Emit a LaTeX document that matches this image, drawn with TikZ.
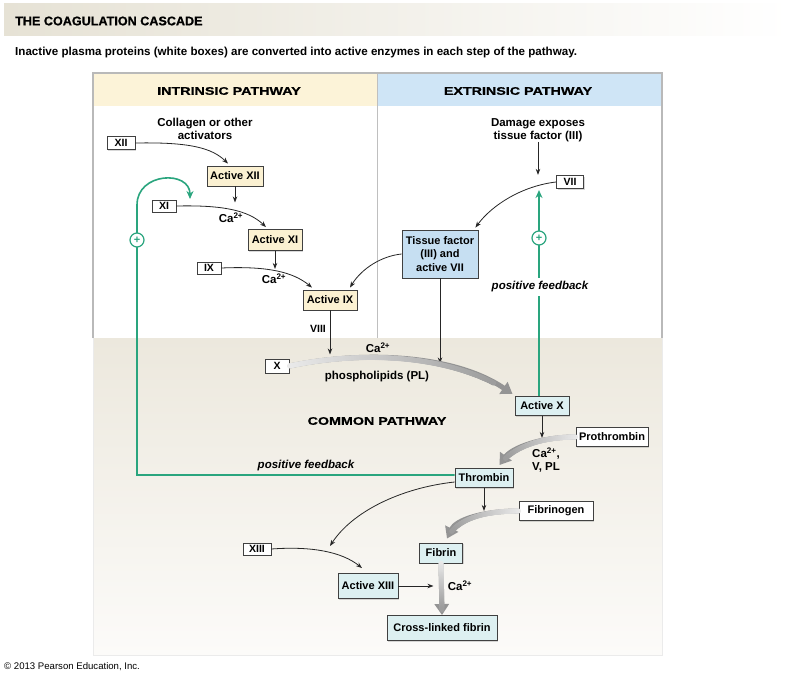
\documentclass[tikz,border=0pt]{standalone}
\usepackage{fontspec}
\setmainfont{Liberation Sans}
\newfontfamily\widefont[FakeStretch=1.3,FakeBold=0.8]{Liberation Sans Bold}
\newfontfamily\heavyfont[FakeBold=0.8]{Liberation Sans Bold}
\usetikzlibrary{arrows.meta,shadows,calc,decorations.markings}
\definecolor{hdrY}{HTML}{FCF3D8}
\definecolor{hdrB}{HTML}{CFE5F6}
\definecolor{boxY}{HTML}{FBF1D2}
\definecolor{boxB}{HTML}{C6DFF2}
\definecolor{boxC}{HTML}{DDF0F1}
\definecolor{fbgreen}{HTML}{2AA57E}
\definecolor{commonT}{HTML}{ECE8DD}
\definecolor{commonB}{HTML}{FCFBF9}
\definecolor{frameG}{HTML}{B9B9B9}
\definecolor{titleG}{HTML}{E6E2D5}
\begin{document}
\begin{tikzpicture}[x=1pt,y=-1pt,
  lbl/.style={font=\fontsize{11.5}{13}\selectfont\bfseries, inner sep=0pt, align=center},
  ital/.style={font=\fontsize{11.5}{13}\selectfont\bfseries\itshape, inner sep=1.5pt},
  hdr/.style={font=\widefont\fontsize{11}{12}\selectfont, inner sep=0pt},
  ibox/.style={draw=black!75, line width=0.9pt, fill=white, inner sep=0pt, align=center,
    font=\fontsize{11}{13.5}\selectfont\bfseries,
    drop shadow={shadow xshift=1.4pt, shadow yshift=-1.4pt, opacity=0.3}},
  sbox/.style={ibox, font=\fontsize{10.5}{12}\selectfont\bfseries},
  wh/.style 2 args={minimum width=#1pt, minimum height=#2pt},
  conn/.style={draw=black!85, line width=0.8pt, -{Stealth[length=6pt,width=4.5pt]}},
  fb/.style={draw=fbgreen, line width=1.6pt},
  fbarrow/.style={fb, -{Stealth[length=8pt,width=7pt]}},
  pluscirc/.style={circle, draw=fbgreen, fill=white, line width=1.2pt, minimum size=14pt, inner sep=0pt, text=fbgreen, font=\bfseries\fontsize{11}{11}\selectfont},
  gbar/.style={draw=black!42, line width=5pt, -{Triangle[length=11pt,width=14pt]},
    postaction={decorate},
    decoration={markings, mark=between positions 0 and 0.9 step 0.6pt with {%
      \pgfmathsetmacro\gf{8+34*\pgfkeysvalueof{/pgf/decoration/mark info/distance from start}/\pgfdecoratedpathlength}%
      \fill[black!\gf] (0,0) circle (2.5pt);}}}
]
\useasboundingbox (0,0) rectangle (812,677);
\fill[white] (0,0) rectangle (812,677);
% title band
\shade[left color=titleG, right color=white] (4,4) rectangle (790,36);
\node[anchor=west, font=\heavyfont\fontsize{12.6}{13}\selectfont, inner sep=0pt] (title) at (15,21) {THE COAGULATION CASCADE};
\node[anchor=west, font=\fontsize{11.6}{13}\selectfont\bfseries, inner sep=0pt] (sub) at (15,53) {Inactive plasma proteins (white boxes) are converted into active enzymes in each step of the pathway.};
% frame
\shade[top color=commonT, bottom color=commonB] (93,338) rectangle (662,655);
\fill[white] (93,106) rectangle (662,338);
\fill[hdrY] (93,73) rectangle (377,106);
\fill[hdrB] (377,73) rectangle (662,106);
\draw[black!25, line width=0.8pt] (377,73) -- (377,338);
\draw[black!8, line width=1pt] (93,338) -- (93,655) -- (662,655) -- (662,338);
\draw[frameG, line width=2.5pt] (93,338) -- (93,73) -- (662,73) -- (662,338);
\node[hdr] (hI) at (229,91) {INTRINSIC PATHWAY};
\node[hdr] (hE) at (518,91) {EXTRINSIC PATHWAY};
\node[hdr] (hC) at (377,421) {COMMON PATHWAY};
% intrinsic
\node[lbl] (coll) at (205,129) {Collagen or other\\activators};
\node[sbox, wh={28}{13}] (XII) at (121,143) {XII};
\node[ibox, wh={56}{20}, fill=boxY] (AXII) at (235,176) {Active XII};
\node[sbox, wh={24}{12}] (XI) at (164,206) {XI};
\node[lbl] (ca1) at (231,218) {Ca\textsuperscript{2+}};
\node[ibox, wh={54}{21}, fill=boxY] (AXI) at (275,240) {Active XI};
\node[sbox, wh={24}{12}] (IX) at (209,268) {IX};
\node[lbl] (ca2) at (274,279) {Ca\textsuperscript{2+}};
\node[ibox, wh={54}{20}, fill=boxY] (AIX) at (330,300) {Active IX};
\node[lbl, font=\fontsize{10.5}{12}\selectfont\bfseries] (VIII) at (318,329) {VIII};
% extrinsic
\node[lbl] (dmg) at (538,130) {Damage exposes\\tissue factor (III)};
\node[sbox, wh={27}{13}] (VII) at (570,182) {VII};
\node[ibox, wh={76}{48}, fill=boxB] (TF) at (440,254) {Tissue factor\\(III) and\\active VII};
% common
\node[sbox, wh={24}{14}] (X) at (277,366) {X};
\node[lbl] (ca3) at (378,348) {Ca\textsuperscript{2+}};
\node[lbl] (pl) at (377,377) {phospholipids (PL)};
\node[ibox, wh={54}{19}, fill=boxC] (AX) at (542,406) {Active X};
\node[ibox, wh={72}{19}] (Pro) at (612,437) {Prothrombin};
\node[lbl] (ca4) at (546,460) {Ca\textsuperscript{2+},\\V, PL};
\node[ibox, wh={58}{19}, fill=boxC] (Thr) at (484,478) {Thrombin};
\node[ibox, wh={74}{19}] (Fbg) at (556,511) {Fibrinogen};
\node[ibox, wh={43}{20}, fill=boxC] (Fib) at (441,553) {Fibrin};
\node[sbox, wh={28}{12}] (XIII) at (257,549) {XIII};
\node[ibox, wh={60}{25}, fill=boxC] (AXIII) at (368,586) {Active XIII};
\node[lbl] (ca5) at (460,586) {Ca\textsuperscript{2+}};
\node[ibox, wh={110}{25}, fill=boxC] (CLF) at (442,628) {Cross-linked fibrin};
\node[ital] (pfL) at (306,466) {positive feedback};
% named free ends
\coordinate (t13) at (330,546);
\coordinate (fbL) at (190,199);
% connectors intrinsic
\draw[conn] (XII.east) .. controls (190,142) and (212,148) .. ($(AXII.north)+(-7,-2)$);
\draw[conn] (AXII.south) -- ++(0,16);
\draw[conn] (XI.east) .. controls (222,205) and (248,210) .. ($(AXI.north)+(-9,-2)$);
\draw[conn] (AXI.south) -- ++(0,18);
\draw[conn] (IX.east) .. controls (268,266) and (293,272) .. ($(AIX.north)+(-18,-2)$);
\draw[conn] (TF.west) .. controls (382,256) and (362,268) .. ($(AIX.north)+(20,-2)$);
% extrinsic
\draw[conn] (dmg.south) -- ++(0,33);
\draw[conn] (VII.west) .. controls (522,186) and (492,205) .. ($(TF.north east)+(-3,-2)$);
\draw[conn] (AIX.south) -- ++(0,44);
\draw[conn] (TF.south) -- ++(0,85);
% common
\draw[gbar] (X.east) .. controls (365,350) and (455,355) .. ($(AX.north west)+(-2,-2)$);
\draw[conn] (AX.south) -- ++(0,22);
\draw[gbar] (Pro.west) .. controls (540,437) and (512,448) .. ($(Thr.north east)+(-14,-3)$);
\draw[conn] ($(Thr.west)+(0,4)$) .. controls (400,488) and (352,512) .. (t13);
\draw[conn] (Thr.south) -- ++(0,23);
\draw[gbar] (Fbg.west) .. controls (482,511) and (456,520) .. ($(Fib.north)+(6,-4)$);
\draw[conn] (XIII.east) .. controls (312,546) and (342,552) .. ($(AXIII.north)+(-6,-5)$);
\draw[conn] (AXIII.east) -- ++(35,0);
\draw[gbar] (Fib.south) -- (CLF.north);
% feedback
\draw[fbarrow] ($(Thr.west)+(0,-3)$) -| (137,205) .. controls (137,172) and (190,170) .. (fbL);
\node[pluscirc] (pL) at (137,240) {+};
\draw[fbarrow] ($(AX.north)+(-3,0)$) -- ++(0,-206);
\node[ital, fill=white, inner ysep=4pt] (pfR) at (540,287) {positive feedback};
\node[pluscirc] (pR) at (539,238) {+};
\node[anchor=west, font=\fontsize{9.6}{10}\selectfont, inner sep=0pt] (copy) at (4,667) {\textcopyright\ 2013 Pearson Education, Inc.};
\end{tikzpicture}
\end{document}
